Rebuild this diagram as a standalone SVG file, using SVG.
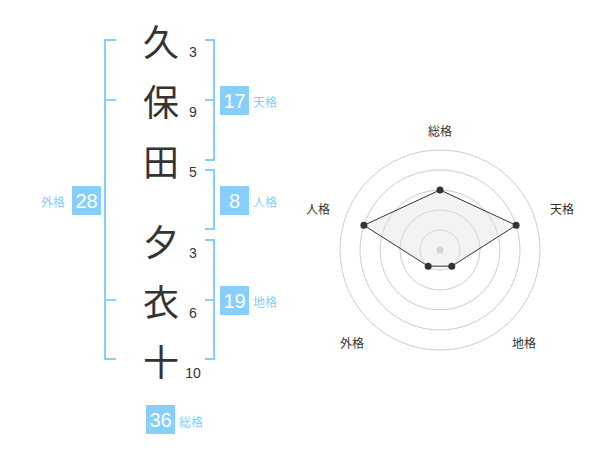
<svg xmlns="http://www.w3.org/2000/svg" width="600" height="470" viewBox="0 0 600 470">
<style>
.ch{font-family:"Noto Sans CJK JP","Noto Sans CJK SC",sans-serif;font-size:36px;fill:#333;text-anchor:middle;dominant-baseline:central}
.num{font-family:"Liberation Sans",Arial,sans-serif;font-size:14px;fill:#333;text-anchor:middle;dominant-baseline:central}
.br{fill:none;stroke:#87cefa;stroke-width:2}
.box{fill:#87cefa}
.bn{font-family:"Liberation Sans",Arial,sans-serif;font-size:20px;fill:#fff;text-anchor:middle;dominant-baseline:central}
.bl{font-family:"Noto Sans CJK JP","Noto Sans CJK SC",sans-serif;font-size:12px;fill:#87cefa;dominant-baseline:central}
.rl{font-family:"Noto Sans CJK JP","Noto Sans CJK SC",sans-serif;font-size:12px;fill:#333;text-anchor:middle;dominant-baseline:central}
.ring{fill:none;stroke:#ccc;stroke-width:1}
.dot{fill:#333}
</style>
<g id="chars">
<text class="ch" x="161" y="40">久</text>
<text class="ch" x="161" y="100">保</text>
<text class="ch" x="161" y="160">田</text>
<text class="ch" x="161" y="240">夕</text>
<text class="ch" x="161" y="300">衣</text>
<text class="ch" x="161" y="360">十</text>
<text class="num" x="193" y="52">3</text>
<text class="num" x="193" y="112">9</text>
<text class="num" x="193" y="172">5</text>
<text class="num" x="193" y="253">3</text>
<text class="num" x="193" y="313">6</text>
<text class="num" x="193" y="373">10</text>
</g>
<g id="connectors">
<path class="br" d="M116,40 H105 V359 H116 M105,100 H116 M105,300 H116"/>
<path class="br" d="M205,40 H214 V160 H205 M205,100 H214"/>
<path class="br" d="M205,170 H214 V229 H205"/>
<path class="br" d="M205,240 H214 V359 H205 M205,300 H214"/>
</g>
<g id="tenkaku">
<rect class="box" x="220" y="86" width="29" height="29"/>
<text class="bn" x="234.5" y="101">17</text>
<text class="bl" x="253" y="101">天格</text>
</g>
<g id="jinkaku">
<rect class="box" x="220" y="186" width="29" height="29"/>
<text class="bn" x="234.5" y="201">8</text>
<text class="bl" x="253" y="201">人格</text>
</g>
<g id="chikaku">
<rect class="box" x="220" y="286" width="29" height="29"/>
<text class="bn" x="234.5" y="301">19</text>
<text class="bl" x="253" y="301">地格</text>
</g>
<g id="gaikaku">
<rect class="box" x="72" y="186" width="29" height="29"/>
<text class="bn" x="86.5" y="201">28</text>
<text class="bl" x="41" y="201">外格</text>
</g>
<g id="soukaku">
<rect class="box" x="146" y="405" width="29" height="29"/>
<text class="bn" x="160.5" y="420">36</text>
<text class="bl" x="179" y="421">総格</text>
</g>
<g id="radar">
<circle class="ring" cx="440" cy="250" r="100"/>
<circle class="ring" cx="440" cy="250" r="80"/>
<circle class="ring" cx="440" cy="250" r="60"/>
<circle class="ring" cx="440" cy="250" r="40"/>
<circle class="ring" cx="440" cy="250" r="20"/>
<circle cx="440" cy="250" r="3.5" fill="#ccc"/>
<polygon points="440,190 516.1,225.3 451.8,266.2 428.2,266.2 363.9,225.3" fill="#e0e0e0" fill-opacity="0.4" stroke="#333" stroke-width="1"/>
<circle class="dot" cx="440" cy="190" r="3.5"/>
<circle class="dot" cx="516.1" cy="225.3" r="3.5"/>
<circle class="dot" cx="451.8" cy="266.2" r="3.5"/>
<circle class="dot" cx="428.2" cy="266.2" r="3.5"/>
<circle class="dot" cx="363.9" cy="225.3" r="3.5"/>
<text class="rl" x="440" y="130">総格</text>
<text class="rl" x="562" y="208">天格</text>
<text class="rl" x="524" y="342">地格</text>
<text class="rl" x="352" y="342">外格</text>
<text class="rl" x="318" y="208">人格</text>
</g>
</svg>
